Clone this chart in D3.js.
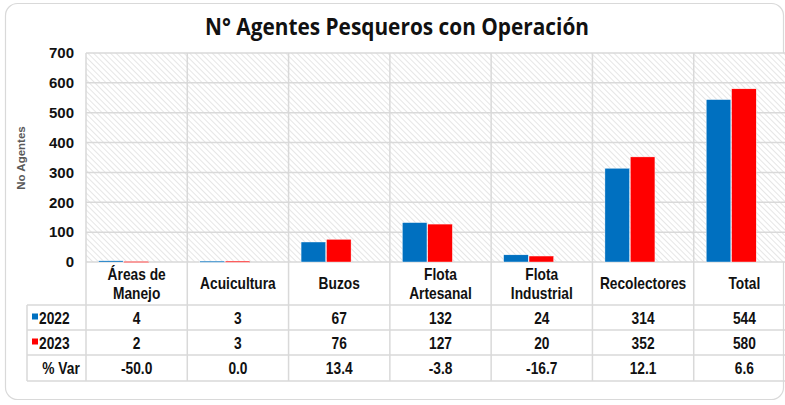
<!DOCTYPE html>
<html>
<head>
<meta charset="utf-8">
<script src="https://cdn.jsdelivr.net/npm/d3@7/dist/d3.min.js"></script>
<style>
  body { margin: 0; background: #fff; }
  svg { display: block; }
</style>
</head>
<body>
<svg id="chart" width="785" height="405"></svg>
<script>
var categories = [["Áreas de", "Manejo"], ["Acuicultura"], ["Buzos"], ["Flota", "Artesanal"], ["Flota", "Industrial"], ["Recolectores"], ["Total"]];
var years = ["2022", "2023"];
var values2022 = [4, 3, 67, 132, 24, 314, 544];
var values2023 = [2, 3, 76, 127, 20, 352, 580];
var pctVar = ["-50.0", "0.0", "13.4", "-3.8", "-16.7", "12.1", "6.6"];
var yTicks = [0, 100, 200, 300, 400, 500, 600, 700];
var colors = {"2022": "#0070C0", "2023": "#FF0000"};

var svg = d3.select("#chart");
var gridColor = "#d9d9d9";
var tableFont = "'Liberation Sans', Arial, sans-serif";

// narrow bold text, like Arial Narrow
function narrowText(parent, tx, ty, str, anchor) {
    return parent.append("text")
        .attr("transform", "translate(" + tx + "," + ty + ") scale(0.86,1)")
        .attr("text-anchor", anchor || "middle")
        .attr("font-family", tableFont)
        .attr("font-weight", "bold")
        .attr("font-size", 16)
        .attr("fill", "#111")
        .text(str);
}

// frame
svg.append("rect")
    .attr("x", 5.5).attr("y", 3.5)
    .attr("width", 778).attr("height", 396)
    .attr("rx", 12)
    .attr("fill", "#fff")
    .attr("stroke", "#d9d9d9")
    .attr("stroke-width", 1.2);

// hatch pattern
var defs = svg.append("defs");
var pat = defs.append("pattern")
    .attr("id", "hatch")
    .attr("patternUnits", "userSpaceOnUse")
    .attr("width", 4).attr("height", 4)
    .attr("patternTransform", "rotate(-45)");
pat.append("rect").attr("width", 4).attr("height", 4).attr("fill", "#fff");
pat.append("line")
    .attr("x1", 0).attr("y1", 0).attr("x2", 0).attr("y2", 4)
    .attr("stroke", "#d6d6d6").attr("stroke-width", 1.2);

var plotLeft = 86, plotRight = 795, plotTop = 53, plotBottom = 262;

var x = d3.scaleBand()
    .domain(d3.range(categories.length))
    .range([plotLeft, plotRight])
    .padding(0);

var x1 = d3.scaleBand()
    .domain(years)
    .range([12.5, 62.5])
    .paddingInner(0.03);

var y = d3.scaleLinear().domain([0, 700]).range([plotBottom, plotTop]);

// plot background
svg.append("rect")
    .attr("x", plotLeft).attr("y", plotTop)
    .attr("width", plotRight - plotLeft).attr("height", plotBottom - plotTop)
    .attr("fill", "url(#hatch)");

// horizontal gridlines
svg.append("g")
    .selectAll("line")
    .data(yTicks)
    .enter().append("line")
    .attr("x1", plotLeft).attr("x2", plotRight)
    .attr("y1", function (d) { return y(d); })
    .attr("y2", function (d) { return y(d); })
    .attr("stroke", gridColor)
    .attr("stroke-width", 1.5);

// vertical gridlines (plot + table)
var bounds = d3.range(categories.length + 1).map(function (i) {
    return i < categories.length ? x(i) : plotRight;
});
var rowY = [262, 305, 330, 355, 381];

svg.append("g")
    .selectAll("line")
    .data(bounds)
    .enter().append("line")
    .attr("x1", function (d) { return d; })
    .attr("x2", function (d) { return d; })
    .attr("y1", plotTop).attr("y2", rowY[4])
    .attr("stroke", gridColor)
    .attr("stroke-width", 1.5);

// table rows
svg.append("g")
    .selectAll("line")
    .data(rowY.slice(1))
    .enter().append("line")
    .attr("x1", 27).attr("x2", plotRight)
    .attr("y1", function (d) { return d; })
    .attr("y2", function (d) { return d; })
    .attr("stroke", gridColor)
    .attr("stroke-width", 1.5);
svg.append("line")
    .attr("x1", 27).attr("x2", 27)
    .attr("y1", rowY[1]).attr("y2", rowY[4])
    .attr("stroke", gridColor).attr("stroke-width", 1.5);

// bars
var barData = categories.map(function (c, i) {
    return [{year: "2022", value: values2022[i]}, {year: "2023", value: values2023[i]}];
});
svg.append("g")
    .selectAll("g")
    .data(barData)
    .enter().append("g")
    .attr("transform", function (d, i) { return "translate(" + x(i) + ",0)"; })
    .selectAll("rect")
    .data(function (d) { return d; })
    .enter().append("rect")
    .attr("x", function (d) { return x1(d.year); })
    .attr("width", x1.bandwidth())
    .attr("y", function (d) { return y(d.value); })
    .attr("height", function (d) { return Math.max(1.2, y(0) - y(d.value)); })
    .attr("fill", function (d) { return colors[d.year]; })
    .attr("stroke", "#fff")
    .attr("stroke-width", 0.4);

// y axis
var yAxis = svg.append("g")
    .attr("transform", "translate(" + (plotLeft - 12) + ",0)")
    .call(d3.axisLeft(y).tickValues(yTicks).tickSize(0).tickPadding(0));
yAxis.select(".domain").remove();
yAxis.selectAll("text")
    .attr("font-family", tableFont)
    .attr("font-weight", "bold")
    .attr("font-size", 15)
    .attr("fill", "#111");

svg.append("text")
    .attr("transform", "translate(25,158) rotate(-90)")
    .attr("text-anchor", "middle")
    .attr("font-family", tableFont)
    .attr("font-weight", "bold")
    .attr("font-size", 11.5)
    .attr("fill", "#595959")
    .text("No Agentes");

// title
svg.append("text")
    .attr("x", 397).attr("y", 35)
    .attr("text-anchor", "middle")
    .attr("font-family", "'Open Sans', 'Noto Sans', sans-serif")
    .attr("font-weight", "bold")
    .attr("font-size", 23)
    .attr("textLength", 384)
    .attr("lengthAdjust", "spacingAndGlyphs")
    .attr("fill", "#111")
    .text("N° Agentes Pesqueros con Operación");

// table header
var header = svg.append("g");
categories.forEach(function (lines, i) {
    var cx = x(i) + x.bandwidth() / 2;
    if (lines.length === 1) {
        narrowText(header, cx, 289, lines[0]);
    } else {
        narrowText(header, cx, 280, lines[0]);
        narrowText(header, cx, 299, lines[1]);
    }
});

// table body
var rows = [
    {label: "2022", key: "2022", vals: values2022},
    {label: "2023", key: "2023", vals: values2023},
    {label: "% Var", key: null, vals: pctVar}
];
rows.forEach(function (r, ri) {
    var cy = (rowY[ri + 1] + rowY[ri + 2]) / 2 + 6;
    var g = svg.append("g");
    if (r.key) {
        g.append("rect")
            .attr("x", 32).attr("y", cy - 10)
            .attr("width", 6).attr("height", 6)
            .attr("fill", colors[r.key]);
        narrowText(g, 39, cy, r.label, "start");
    } else {
        narrowText(g, 61, cy, r.label);
    }
    r.vals.forEach(function (v, i) {
        narrowText(g, x(i) + x.bandwidth() / 2, cy, v);
    });
});
</script>
</body>
</html>
